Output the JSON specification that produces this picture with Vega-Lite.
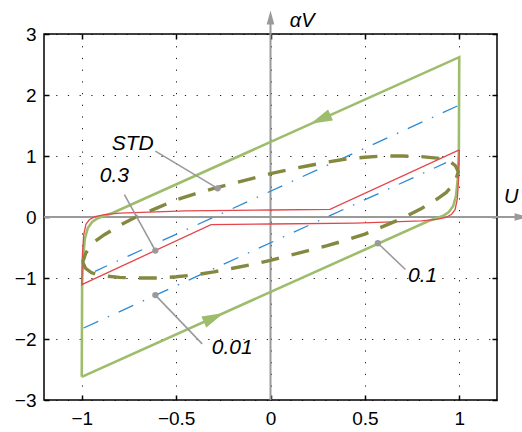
{
  "$schema": "https://vega.github.io/schema/vega-lite/v6.json",
  "width": 453,
  "height": 366,
  "autosize": {"type": "none"},
  "padding": {"left": 44, "top": 34, "right": 25, "bottom": 32},
  "background": "white",
  "config": {
    "view": {"stroke": "#000", "strokeWidth": 1.5},
    "text": {"font": "Liberation Sans"}
  },
  "datasets": {
    "curves": [
      {"s": "g", "b": "a", "o": 1, "x": -1, "y": -2.62},
      {"s": "g", "b": "a", "o": 2, "x": 0.84, "y": -0.062},
      {"s": "g", "b": "a", "o": 3, "x": 0.88, "y": -0.02},
      {"s": "g", "b": "a", "o": 4, "x": 0.915, "y": 0.02},
      {"s": "g", "b": "a", "o": 5, "x": 0.945, "y": 0.08},
      {"s": "g", "b": "a", "o": 6, "x": 0.968, "y": 0.18},
      {"s": "g", "b": "a", "o": 7, "x": 0.983, "y": 0.35},
      {"s": "g", "b": "a", "o": 8, "x": 0.993, "y": 0.65},
      {"s": "g", "b": "a", "o": 9, "x": 0.998, "y": 1.1},
      {"s": "g", "b": "a", "o": 10, "x": 1, "y": 2.62},
      {"s": "g", "b": "a", "o": 11, "x": -0.84, "y": 0.062},
      {"s": "g", "b": "a", "o": 12, "x": -0.88, "y": 0.02},
      {"s": "g", "b": "a", "o": 13, "x": -0.915, "y": -0.02},
      {"s": "g", "b": "a", "o": 14, "x": -0.945, "y": -0.08},
      {"s": "g", "b": "a", "o": 15, "x": -0.968, "y": -0.18},
      {"s": "g", "b": "a", "o": 16, "x": -0.983, "y": -0.35},
      {"s": "g", "b": "a", "o": 17, "x": -0.993, "y": -0.65},
      {"s": "g", "b": "a", "o": 18, "x": -0.998, "y": -1.1},
      {"s": "g", "b": "a", "o": 19, "x": -1, "y": -2.62},

      {"s": "r", "b": "a", "o": 1, "x": 1, "y": 1.1},
      {"s": "r", "b": "a", "o": 2, "x": 0.315, "y": 0.125},
      {"s": "r", "b": "a", "o": 3, "x": 0, "y": 0.115},
      {"s": "r", "b": "a", "o": 4, "x": -0.45, "y": 0.1},
      {"s": "r", "b": "a", "o": 5, "x": -0.8, "y": 0.065},
      {"s": "r", "b": "a", "o": 6, "x": -0.88, "y": 0.04},
      {"s": "r", "b": "a", "o": 7, "x": -0.93, "y": 0.005},
      {"s": "r", "b": "a", "o": 8, "x": -0.96, "y": -0.045},
      {"s": "r", "b": "a", "o": 9, "x": -0.978, "y": -0.12},
      {"s": "r", "b": "a", "o": 10, "x": -0.99, "y": -0.3},
      {"s": "r", "b": "a", "o": 11, "x": -0.996, "y": -0.6},
      {"s": "r", "b": "a", "o": 12, "x": -1, "y": -1.11},
      {"s": "r", "b": "a", "o": 13, "x": -0.315, "y": -0.125},
      {"s": "r", "b": "a", "o": 14, "x": 0, "y": -0.115},
      {"s": "r", "b": "a", "o": 15, "x": 0.45, "y": -0.1},
      {"s": "r", "b": "a", "o": 16, "x": 0.8, "y": -0.065},
      {"s": "r", "b": "a", "o": 17, "x": 0.88, "y": -0.04},
      {"s": "r", "b": "a", "o": 18, "x": 0.93, "y": -0.005},
      {"s": "r", "b": "a", "o": 19, "x": 0.96, "y": 0.045},
      {"s": "r", "b": "a", "o": 20, "x": 0.978, "y": 0.12},
      {"s": "r", "b": "a", "o": 21, "x": 0.99, "y": 0.3},
      {"s": "r", "b": "a", "o": 22, "x": 0.996, "y": 0.6},
      {"s": "r", "b": "a", "o": 23, "x": 1, "y": 1.1},

      {"s": "b", "b": "up", "o": 1, "x": 0.99, "y": 1.82},
      {"s": "b", "b": "up", "o": 2, "x": -0.93, "y": -0.89},
      {"s": "b", "b": "lo", "o": 1, "x": -0.99, "y": -1.82},
      {"s": "b", "b": "lo", "o": 2, "x": 0.93, "y": 0.89},

      {"s": "o", "b": "a", "o": 1, "x": -0.995, "y": -0.74},
      {"s": "o", "b": "a", "o": 2, "x": -0.98, "y": -0.84},
      {"s": "o", "b": "a", "o": 3, "x": -0.95, "y": -0.91},
      {"s": "o", "b": "a", "o": 4, "x": -0.9, "y": -0.96},
      {"s": "o", "b": "a", "o": 5, "x": -0.8, "y": -0.99},
      {"s": "o", "b": "a", "o": 6, "x": -0.7, "y": -1.0},
      {"s": "o", "b": "a", "o": 7, "x": -0.6, "y": -1.0},
      {"s": "o", "b": "a", "o": 8, "x": -0.5, "y": -0.98},
      {"s": "o", "b": "a", "o": 9, "x": -0.4, "y": -0.95},
      {"s": "o", "b": "a", "o": 10, "x": -0.3, "y": -0.9},
      {"s": "o", "b": "a", "o": 11, "x": -0.2, "y": -0.84},
      {"s": "o", "b": "a", "o": 12, "x": -0.1, "y": -0.78},
      {"s": "o", "b": "a", "o": 13, "x": 0, "y": -0.71},
      {"s": "o", "b": "a", "o": 14, "x": 0.1, "y": -0.63},
      {"s": "o", "b": "a", "o": 15, "x": 0.2, "y": -0.55},
      {"s": "o", "b": "a", "o": 16, "x": 0.3, "y": -0.47},
      {"s": "o", "b": "a", "o": 17, "x": 0.4, "y": -0.38},
      {"s": "o", "b": "a", "o": 18, "x": 0.5, "y": -0.28},
      {"s": "o", "b": "a", "o": 19, "x": 0.6, "y": -0.15},
      {"s": "o", "b": "a", "o": 20, "x": 0.7, "y": -0.02},
      {"s": "o", "b": "a", "o": 21, "x": 0.8, "y": 0.14},
      {"s": "o", "b": "a", "o": 22, "x": 0.88, "y": 0.29},
      {"s": "o", "b": "a", "o": 23, "x": 0.93, "y": 0.4},
      {"s": "o", "b": "a", "o": 24, "x": 0.96, "y": 0.5},
      {"s": "o", "b": "a", "o": 25, "x": 0.98, "y": 0.6},
      {"s": "o", "b": "a", "o": 26, "x": 0.995, "y": 0.74},
      {"s": "o", "b": "a", "o": 27, "x": 0.98, "y": 0.84},
      {"s": "o", "b": "a", "o": 28, "x": 0.95, "y": 0.91},
      {"s": "o", "b": "a", "o": 29, "x": 0.9, "y": 0.96},
      {"s": "o", "b": "a", "o": 30, "x": 0.8, "y": 0.99},
      {"s": "o", "b": "a", "o": 31, "x": 0.7, "y": 1.0},
      {"s": "o", "b": "a", "o": 32, "x": 0.6, "y": 1.0},
      {"s": "o", "b": "a", "o": 33, "x": 0.5, "y": 0.98},
      {"s": "o", "b": "a", "o": 34, "x": 0.4, "y": 0.95},
      {"s": "o", "b": "a", "o": 35, "x": 0.3, "y": 0.9},
      {"s": "o", "b": "a", "o": 36, "x": 0.2, "y": 0.84},
      {"s": "o", "b": "a", "o": 37, "x": 0.1, "y": 0.78},
      {"s": "o", "b": "a", "o": 38, "x": 0, "y": 0.71},
      {"s": "o", "b": "a", "o": 39, "x": -0.1, "y": 0.63},
      {"s": "o", "b": "a", "o": 40, "x": -0.2, "y": 0.55},
      {"s": "o", "b": "a", "o": 41, "x": -0.3, "y": 0.47},
      {"s": "o", "b": "a", "o": 42, "x": -0.4, "y": 0.38},
      {"s": "o", "b": "a", "o": 43, "x": -0.5, "y": 0.28},
      {"s": "o", "b": "a", "o": 44, "x": -0.6, "y": 0.15},
      {"s": "o", "b": "a", "o": 45, "x": -0.7, "y": 0.02},
      {"s": "o", "b": "a", "o": 46, "x": -0.8, "y": -0.14},
      {"s": "o", "b": "a", "o": 47, "x": -0.88, "y": -0.29},
      {"s": "o", "b": "a", "o": 48, "x": -0.93, "y": -0.4},
      {"s": "o", "b": "a", "o": 49, "x": -0.96, "y": -0.5},
      {"s": "o", "b": "a", "o": 50, "x": -0.98, "y": -0.6},
      {"s": "o", "b": "a", "o": 51, "x": -0.995, "y": -0.74}
    ],
    "axesLines": [
      {"x": 0, "y": -3, "x2": 0, "y2": 3.22},
      {"x": -1.2, "y": 0, "x2": 1.3, "y2": 0}
    ],
    "axesHeads": [
      {"x": 0, "y": 3.27, "a": 0},
      {"x": 1.33, "y": 0, "a": 90}
    ],
    "greenHeads": [
      {"x": 0.265, "y": 1.6, "a": 246},
      {"x": -0.3, "y": -1.647, "a": 66}
    ],
    "leaders": [
      {"x": -0.61, "y": 1.08, "x2": -0.28, "y2": 0.47},
      {"x": -0.774, "y": 0.367, "x2": -0.61, "y2": -0.55},
      {"x": 0.569, "y": -0.43, "x2": 0.715, "y2": -0.86},
      {"x": -0.61, "y": -1.28, "x2": -0.362, "y2": -2.08}
    ],
    "dots": [
      {"x": -0.28, "y": 0.47},
      {"x": -0.61, "y": -0.55},
      {"x": 0.569, "y": -0.43},
      {"x": -0.61, "y": -1.28}
    ],
    "labels": [
      {"x": -0.73, "y": 1.2, "t": "STD"},
      {"x": -0.827, "y": 0.667, "t": "0.3"},
      {"x": 0.806, "y": -0.96, "t": "0.1"},
      {"x": -0.203, "y": -2.15, "t": "0.01"}
    ],
    "axisLabels": [
      {"x": 0.168, "y": 3.22, "t": "αV", "al": "center"},
      {"x": 1.275, "y": 0.32, "t": "U", "al": "left"}
    ],
    "one": [{"x": 0, "y": 0}]
  },
  "encoding": {
    "x": {"field": "x", "type": "quantitative", "scale": {"domain": [-1.2, 1.2], "nice": false, "zero": false}, "axis": null},
    "y": {"field": "y", "type": "quantitative", "scale": {"domain": [-3, 3], "nice": false, "zero": false}, "axis": null}
  },
  "layer": [
    {
      "data": {"name": "one"},
      "mark": {"type": "point", "opacity": 0},
      "encoding": {
        "x": {"field": "x", "type": "quantitative", "scale": {"domain": [-1.2, 1.2], "nice": false, "zero": false},
          "axis": {"orient": "bottom", "values": [-1, -0.5, 0, 0.5, 1], "format": "~g", "grid": true, "gridColor": "#000", "gridDash": [1.2, 10.5], "gridWidth": 1, "gridOpacity": 0.9, "domain": false, "ticks": true, "tickSize": -5, "tickColor": "#000", "tickWidth": 1.5, "labelFont": "Liberation Sans", "labelFontSize": 19, "labelColor": "#000", "labelPadding": 14, "title": null}},
        "y": {"field": "y", "type": "quantitative", "scale": {"domain": [-3, 3], "nice": false, "zero": false},
          "axis": {"orient": "left", "values": [-3, -2, -1, 0, 1, 2, 3], "format": "~g", "grid": true, "gridColor": "#000", "gridDash": [1.2, 10.5], "gridWidth": 1, "gridOpacity": 0.9, "domain": false, "ticks": true, "tickSize": -5, "tickColor": "#000", "tickWidth": 1.5, "labelFont": "Liberation Sans", "labelFontSize": 19, "labelColor": "#000", "labelPadding": 13, "title": null}}
      }
    },
    {
      "data": {"name": "one"},
      "mark": {"type": "point", "opacity": 0},
      "encoding": {
        "x": {"field": "x", "type": "quantitative", "scale": {"domain": [-1.2, 1.2], "nice": false, "zero": false},
          "axis": {"orient": "top", "values": [-1, -0.5, 0, 0.5, 1], "labels": false, "grid": false, "domain": false, "ticks": true, "tickSize": -5, "tickColor": "#000", "tickWidth": 1.5, "title": null}},
        "y": {"field": "y", "type": "quantitative", "scale": {"domain": [-3, 3], "nice": false, "zero": false},
          "axis": {"orient": "right", "values": [-3, -2, -1, 0, 1, 2, 3], "labels": false, "grid": false, "domain": false, "ticks": true, "tickSize": -5, "tickColor": "#000", "tickWidth": 1.5, "title": null}}
      }
    },
    {
      "data": {"name": "axesLines"},
      "mark": {"type": "rule", "color": "#9a9a9a", "strokeWidth": 2, "clip": false},
      "encoding": {"x2": {"field": "x2"}, "y2": {"field": "y2"}}
    },
    {
      "data": {"name": "axesHeads"},
      "mark": {"type": "point", "shape": "M0,-1L0.55,1L-0.55,1Z", "filled": true, "color": "#9a9a9a", "opacity": 1, "size": 196, "clip": false},
      "encoding": {"angle": {"field": "a", "type": "quantitative", "scale": null}}
    },
    {
      "data": {"name": "curves"},
      "transform": [{"filter": "datum.s === 'g'"}],
      "mark": {"type": "line", "color": "#9dbd6c", "strokeWidth": 2.6, "clip": false},
      "encoding": {"order": {"field": "o", "type": "quantitative"}}
    },
    {
      "data": {"name": "greenHeads"},
      "mark": {"type": "point", "shape": "M0,-1L0.55,1L-0.55,1Z", "filled": true, "color": "#9dbd6c", "opacity": 1, "size": 480},
      "encoding": {"angle": {"field": "a", "type": "quantitative", "scale": null}}
    },
    {
      "data": {"name": "curves"},
      "transform": [{"filter": "datum.s === 'r'"}],
      "mark": {"type": "line", "color": "#e4474b", "strokeWidth": 1.3},
      "encoding": {"order": {"field": "o", "type": "quantitative"}}
    },
    {
      "data": {"name": "curves"},
      "transform": [{"filter": "datum.s === 'b'"}],
      "mark": {"type": "line", "color": "#2a8ad5", "strokeWidth": 1.3, "strokeDash": [16, 10.5, 1.5, 10.5]},
      "encoding": {"order": {"field": "o", "type": "quantitative"}, "detail": {"field": "b"}}
    },
    {
      "data": {"name": "curves"},
      "transform": [{"filter": "datum.s === 'o'"}],
      "mark": {"type": "line", "color": "#858840", "strokeWidth": 3.4, "strokeDash": [18, 13]},
      "encoding": {"order": {"field": "o", "type": "quantitative"}}
    },
    {
      "data": {"name": "leaders"},
      "mark": {"type": "rule", "color": "#9a9a9a", "strokeWidth": 1.6},
      "encoding": {"x2": {"field": "x2"}, "y2": {"field": "y2"}}
    },
    {
      "data": {"name": "dots"},
      "mark": {"type": "circle", "color": "#9a9a9a", "opacity": 1, "size": 40}
    },
    {
      "data": {"name": "labels"},
      "mark": {"type": "text", "font": "Liberation Sans", "fontStyle": "italic", "fontSize": 21, "color": "#000", "align": "center", "baseline": "middle"},
      "encoding": {"text": {"field": "t"}}
    },
    {
      "data": {"name": "axisLabels"},
      "mark": {"type": "text", "font": "Liberation Sans", "fontStyle": "italic", "fontSize": 20, "color": "#000", "baseline": "middle", "clip": false},
      "encoding": {"text": {"field": "t"}, "align": {"field": "al", "type": "nominal", "scale": null}}
    }
  ],
  "resolve": {"axis": {"x": "independent", "y": "independent"}}
}
